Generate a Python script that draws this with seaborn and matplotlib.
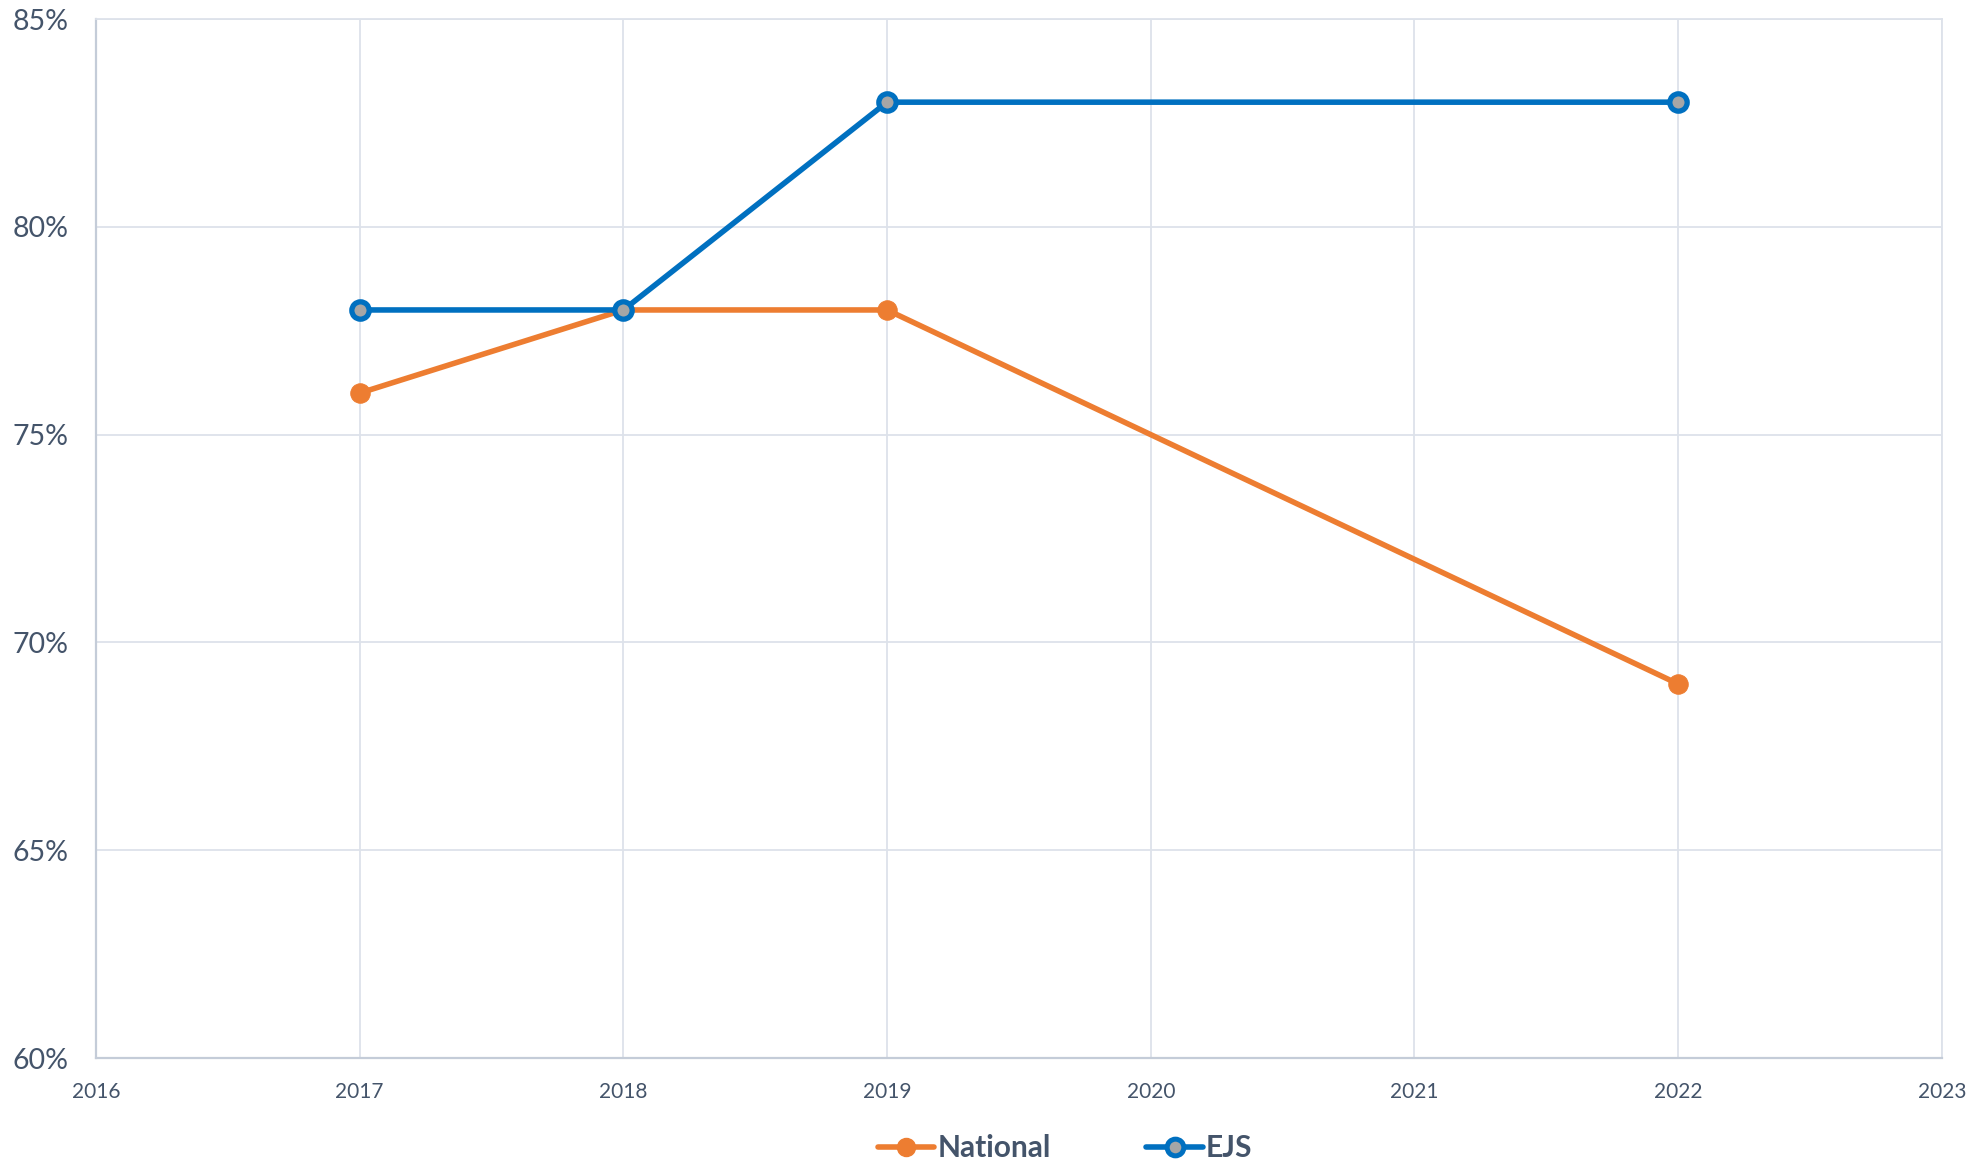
import matplotlib
matplotlib.use("Agg")
import matplotlib.pyplot as plt
import seaborn as sns
import pandas as pd
from matplotlib.ticker import FuncFormatter, MultipleLocator
from matplotlib.lines import Line2D

years = [2017, 2018, 2019, 2022]
national = [0.76, 0.78, 0.78, 0.69]
ejs = [0.78, 0.78, 0.83, 0.83]
series_names = ["National", "EJS"]
colors = ["#ED7D31", "#0070C0"]

df = pd.DataFrame({
    "year": years * 2,
    "value": national + ejs,
    "series": [series_names[0]] * len(years) + [series_names[1]] * len(years),
})

sns.set_theme(style="white")
plt.rcParams["font.family"] = ["Lato", "DejaVu Sans"]
text_color = "#44546A"

fig = plt.figure(figsize=(19.87, 11.62), dpi=100)
ax = fig.add_axes([0.0483, 0.0895, 0.9290, 0.8941])

sns.lineplot(data=df[df.series == "National"], x="year", y="value", ax=ax,
             color=colors[0], linewidth=4.0, marker="o", markersize=14,
             markeredgecolor=colors[0], markerfacecolor=colors[0], legend=False)
sns.lineplot(data=df[df.series == "EJS"], x="year", y="value", ax=ax,
             color=colors[1], linewidth=4.0, marker="o", markersize=12.5,
             markeredgecolor=colors[1], markeredgewidth=3.8,
             markerfacecolor="#A6A6A6", legend=False)

ax.set_xlim(2016, 2023)
ax.set_ylim(0.60, 0.85)
ax.xaxis.set_major_locator(MultipleLocator(1))
ax.yaxis.set_major_locator(MultipleLocator(0.05))
ax.yaxis.set_major_formatter(FuncFormatter(lambda v, p: f"{v*100:.0f}%"))
ax.xaxis.set_major_formatter(FuncFormatter(lambda v, p: f"{int(round(v))}"))
ax.set_xlabel("")
ax.set_ylabel("")
ax.grid(True, color="#DDE2EA", linewidth=1.3)
ax.set_axisbelow(True)
for s in ["top", "right"]:
    ax.spines[s].set_color("#DDE2EA")
    ax.spines[s].set_linewidth(1.3)
for s in ["left", "bottom"]:
    ax.spines[s].set_color("#C4CCD8")
    ax.spines[s].set_linewidth(1.6)
ax.tick_params(axis="y", labelsize=20.5, labelcolor=text_color, length=0, pad=20)
ax.tick_params(axis="x", labelsize=15, labelcolor=text_color, length=0, pad=17)

handles = [
    Line2D([], [], color=colors[0], linewidth=4.0, marker="o", markersize=13,
           markerfacecolor=colors[0], markeredgecolor=colors[0]),
    Line2D([], [], color=colors[1], linewidth=4.0, marker="o", markersize=12,
           markerfacecolor="#A6A6A6", markeredgecolor=colors[1], markeredgewidth=3.6),
]
leg = fig.legend(handles, series_names, loc="center", bbox_to_anchor=(0.536, 0.012),
                 ncol=2, frameon=False, handlelength=1.9, handletextpad=0.1,
                 columnspacing=3.2, prop={"size": 21.5, "weight": "bold"})
for t in leg.get_texts():
    t.set_color(text_color)

fig.savefig("out.png", dpi=100)
